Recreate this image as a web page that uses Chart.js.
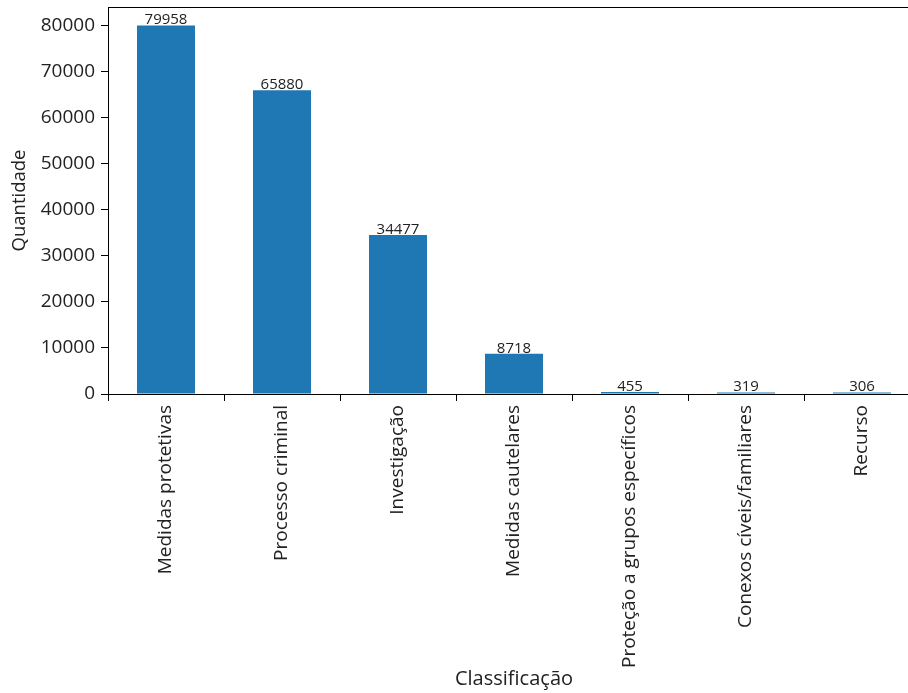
<!DOCTYPE html>
<html>
<head>
<meta charset="utf-8">
<script src="https://cdn.jsdelivr.net/npm/chart.js@4/dist/chart.umd.min.js"></script>
<style>
  html, body { margin: 0; padding: 0; background: #fff; overflow: hidden; }
  #wrap { width: 930px; height: 693px; }
</style>
</head>
<body>
<div id="wrap"><canvas id="c" width="930" height="693"></canvas></div>
<script>
const categories = ["Medidas protetivas", "Processo criminal", "Investigação", "Medidas cautelares", "Proteção a grupos específicos", "Conexos cíveis/familiares", "Recurso"];
const quantities = [79958, 65880, 34477, 8718, 455, 319, 306];
const yTicks = [0, 10000, 20000, 30000, 40000, 50000, 60000, 70000, 80000];
const yMax = 83956;
const xTitle = "Classificação";
const yTitle = "Quantidade";

const FONT = "'Open Sans', 'Noto Sans', sans-serif";

const frame = {
  id: 'frame',
  afterDraw(chart) {
    const a = chart.chartArea, ctx = chart.ctx;
    ctx.save();
    ctx.strokeStyle = '#000';
    ctx.lineWidth = 1;
    ctx.strokeRect(Math.round(a.left) + 0.5, Math.round(a.top) + 0.5, Math.round(a.right - a.left), Math.round(a.bottom - a.top));
    ctx.restore();
  }
};

const valueLabels = {
  id: 'valueLabels',
  afterDatasetsDraw(chart) {
    const ctx = chart.ctx;
    const meta = chart.getDatasetMeta(0);
    ctx.save();
    ctx.font = "15px " + FONT;
    ctx.fillStyle = '#222';
    ctx.textAlign = 'center';
    ctx.textBaseline = 'bottom';
    meta.data.forEach((bar, i) => {
      ctx.fillText(String(chart.data.datasets[0].data[i]), bar.x, bar.y + 2);
    });
    ctx.restore();
  }
};

new Chart(document.getElementById('c'), {
  type: 'bar',
  data: {
    labels: categories,
    datasets: [{
      data: quantities,
      backgroundColor: '#1f77b4',
      borderWidth: 0,
      barPercentage: 0.5,
      categoryPercentage: 1.0
    }]
  },
  options: {
    responsive: false,
    animation: false,
    layout: { padding: { top: 7, left: 0, right: 10, bottom: 0 } },
    plugins: { legend: { display: false }, tooltip: { enabled: false }, title: { display: false } },
    scales: {
      x: {
        offset: true,
        grid: { display: true, drawOnChartArea: false, drawTicks: true, tickLength: 7, color: '#000', tickColor: '#000' },
        border: { display: true, color: '#000', width: 1 },
        ticks: {
          minRotation: 90, maxRotation: 90, autoSkip: false,
          color: '#222', padding: 4,
          font: { family: FONT, size: 19 }
        },
        title: { display: true, text: xTitle, color: '#222', font: { family: FONT, size: 20 }, padding: { top: 0, bottom: 2 } },
        afterFit(scale) { scale.height = 299; scale.paddingLeft = 0; scale.paddingRight = 0; }
      },
      y: {
        min: 0, max: yMax,
        afterBuildTicks(scale) { scale.ticks = yTicks.map(v => ({ value: v })); },
        grid: { display: true, drawOnChartArea: false, drawTicks: true, tickLength: 7, color: '#000', tickColor: '#000' },
        border: { display: true, color: '#000', width: 1 },
        ticks: {
          autoSkip: false, color: '#222', padding: 6,
          font: { family: FONT, size: 19 },
          callback: (v) => String(v)
        },
        title: { display: true, text: yTitle, color: '#222', font: { family: FONT, size: 18.5 }, padding: { top: 9, bottom: 0 } },
        afterFit(scale) { scale.width = 108; scale.paddingTop = 0; scale.paddingBottom = 0; }
      }
    }
  },
  plugins: [frame, valueLabels]
});
</script>
</body>
</html>
